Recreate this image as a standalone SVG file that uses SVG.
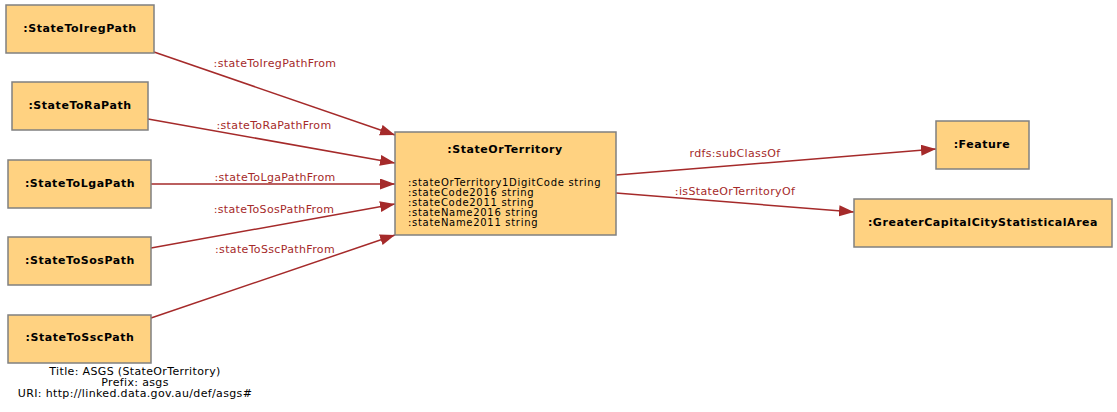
<svg xmlns="http://www.w3.org/2000/svg" width="1117" height="412" viewBox="0 0 1117 412">
<defs>
<marker id="arr" markerUnits="userSpaceOnUse" markerWidth="16" markerHeight="12" refX="15" refY="5.5" orient="auto">
<path d="M0,0 L15,5.5 L0,11 Z" fill="#a52a2a"/>
</marker>
<style>
.box{fill:#ffd281;stroke:#808080;stroke-width:1.5}
.nl{font-family:"DejaVu Sans",Verdana,sans-serif;font-size:11px;letter-spacing:0.55px;font-weight:bold;fill:#000;text-anchor:middle}
.at{font-family:"DejaVu Sans",Verdana,sans-serif;font-size:10px;letter-spacing:0.7px;fill:#000}
.e{stroke:#a52a2a;stroke-width:1.5;fill:none;marker-end:url(#arr)}
.el{font-family:"DejaVu Sans",Verdana,sans-serif;font-size:11px;letter-spacing:0.35px;fill:#a52a2a;text-anchor:middle}
.ft{font-family:"DejaVu Sans",Verdana,sans-serif;font-size:11px;letter-spacing:0.35px;fill:#000;text-anchor:middle}
</style>
</defs>
<rect width="1117" height="412" fill="#fff"/>
<g id="connectors">
<line class="e" x1="154" y1="52" x2="395" y2="135"/>
<line class="e" x1="148" y1="119" x2="395" y2="163"/>
<line class="e" x1="151" y1="184" x2="395" y2="184"/>
<line class="e" x1="151" y1="248" x2="395" y2="204"/>
<line class="e" x1="151" y1="318" x2="395" y2="235"/>
<line class="e" x1="616" y1="175" x2="936" y2="149"/>
<line class="e" x1="616" y1="193" x2="854" y2="212"/>
<text class="el" x="275" y="67">:stateToIregPathFrom</text>
<text class="el" x="274" y="129">:stateToRaPathFrom</text>
<text class="el" x="275" y="181">:stateToLgaPathFrom</text>
<text class="el" x="274" y="213">:stateToSosPathFrom</text>
<text class="el" x="275" y="253">:stateToSscPathFrom</text>
<text class="el" x="735" y="157">rdfs:subClassOf</text>
<text class="el" x="735" y="195">:isStateOrTerritoryOf</text>
</g>
<g id="StateToIregPath"><rect class="box" x="6" y="5" width="148" height="48"/><text class="nl" x="80" y="32">:StateToIregPath</text></g>
<g id="StateToRaPath"><rect class="box" x="12" y="82" width="136" height="48"/><text class="nl" x="80" y="109">:StateToRaPath</text></g>
<g id="StateToLgaPath"><rect class="box" x="8" y="160" width="143" height="48"/><text class="nl" x="80" y="187">:StateToLgaPath</text></g>
<g id="StateToSosPath"><rect class="box" x="8" y="237" width="143" height="48"/><text class="nl" x="80" y="264">:StateToSosPath</text></g>
<g id="StateToSscPath"><rect class="box" x="8" y="315" width="143" height="48"/><text class="nl" x="80" y="341">:StateToSscPath</text></g>
<g id="StateOrTerritory"><rect class="box" x="395" y="132" width="221" height="103"/>
<text class="nl" x="505" y="153">:StateOrTerritory</text>
<text class="at" x="408" y="185.5">:stateOrTerritory1DigitCode string</text>
<text class="at" x="408" y="195.5">:stateCode2016 string</text>
<text class="at" x="408" y="205.5">:stateCode2011 string</text>
<text class="at" x="408" y="215.5">:stateName2016 string</text>
<text class="at" x="408" y="225.5">:stateName2011 string</text>
</g>
<g id="Feature"><rect class="box" x="936" y="121" width="93" height="48"/><text class="nl" x="982" y="148">:Feature</text></g>
<g id="GreaterCapitalCityStatisticalArea"><rect class="box" x="854" y="199" width="258" height="48"/><text class="nl" x="983" y="226">:GreaterCapitalCityStatisticalArea</text></g>
<g id="footer">
<text class="ft" x="135" y="375">Title: ASGS (StateOrTerritory)</text>
<text class="ft" x="135" y="386">Prefix: asgs</text>
<text class="ft" x="135" y="397">URI: http://linked.data.gov.au/def/asgs#</text>
</g>
</svg>
